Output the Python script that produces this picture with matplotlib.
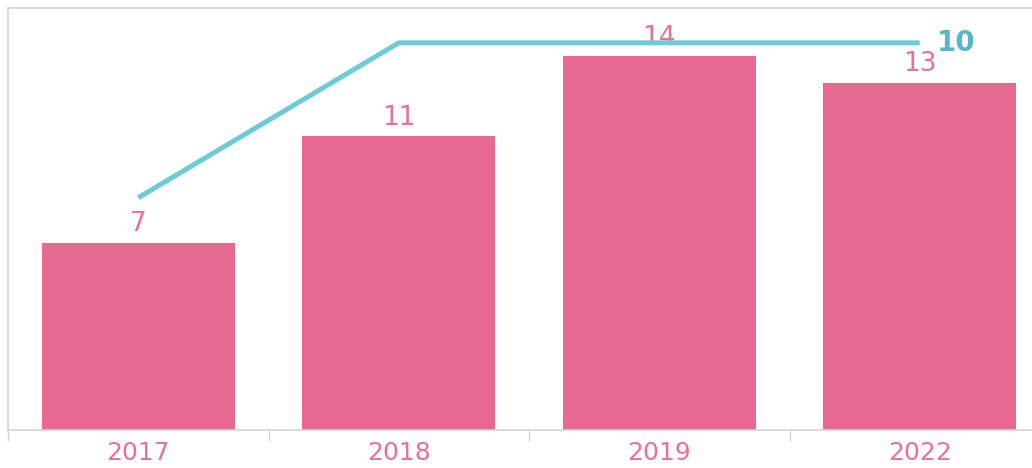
import numpy as np
import matplotlib.pyplot as plt

# data
years = ["2017", "2018", "2019", "2022"]
bar_values = [7, 11, 14, 13]
line_values = [6, 10, 10, 10]

bar_color = "#E8698F"
label_pink = "#E8709C"
line_color = "#6CCBD5"
line_label_color = "#58B6CA"
frame_color = "#D4D4D4"

plt.rcParams["font.family"] = "DejaVu Sans"

fig = plt.figure(figsize=(10.32, 4.68), dpi=100)
ax = fig.add_axes([8 / 1032, 38 / 468, 1042 / 1032, 422 / 468])

x = np.arange(len(years))
bars = ax.bar(x, bar_values, width=0.74, color=bar_color, zorder=2)

for xi, v in zip(x, bar_values):
    ax.annotate(str(v), (xi, v), xytext=(0, 4), textcoords="offset points",
                ha="center", va="bottom", fontsize=19, color=label_pink)

ax.set_xlim(-0.5, 3.5)
ax.set_ylim(0, 15.8)
ax.set_yticks([])
ax.set_xticks(x)
ax.set_xticklabels(years, fontsize=18, color=label_pink)
ax.tick_params(axis="x", which="major", length=0, pad=8)
ax.set_xticks(np.arange(-0.5, 3.6, 1), minor=True)
ax.tick_params(axis="x", which="minor", length=8, color=frame_color, width=1)

for side in ["left", "top", "bottom", "right"]:
    ax.spines[side].set_color(frame_color)
    ax.spines[side].set_linewidth(1.2)

# line series on its own scale
ax2 = ax.twinx()
ax2.plot(x, line_values, color=line_color, lw=3.6, solid_capstyle="butt", zorder=3)
ax2.set_ylim(0, 10.9)
ax2.set_yticks([])
ax2.annotate(str(line_values[-1]), (x[-1], line_values[-1]), xytext=(12, 0),
             textcoords="offset points", ha="left", va="center",
             fontsize=20, fontweight="bold", color=line_label_color)
for side in ["left", "top", "bottom", "right"]:
    ax2.spines[side].set_visible(False)

fig.savefig("out.png", dpi=100)
